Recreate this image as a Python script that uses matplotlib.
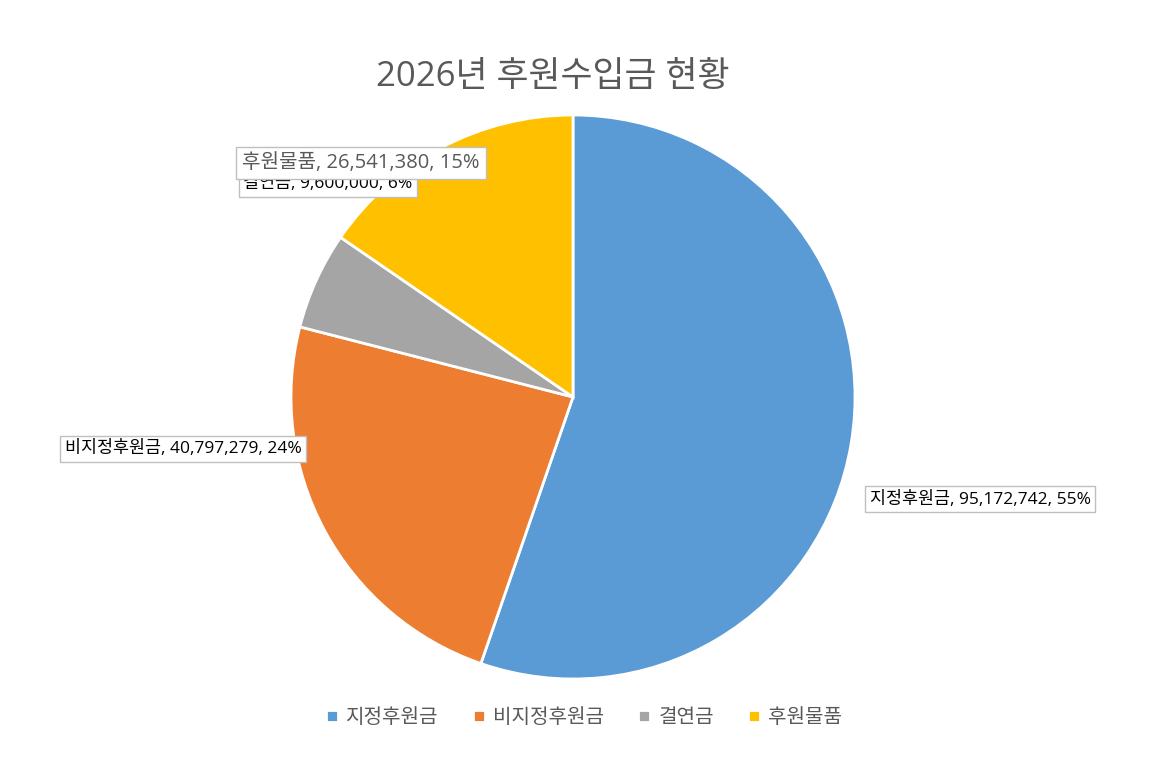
import matplotlib.pyplot as plt

plt.rcParams['font.family'] = ['Open Sans', 'Noto Sans CJK KR', 'DejaVu Sans']

# data
categories = ['지정후원금', '비지정후원금', '결연금', '후원물품']
values = [95172742, 40797279, 9600000, 26541380]
colors = ['#5B9BD5', '#ED7D31', '#A5A5A5', '#FFC000']
title = '2026년 후원수입금 현황'

# label box centres in figure pixels (layout only)
label_pos = [(980, 499), (183, 449), (328, 184), (361, 163)]
label_size = [12.5, 12.5, 12.5, 14.5]
label_pad = [0.25, 0.25, 0.25, 0.32]
label_color = ['black', 'black', 'black', '#595959']

W, H = 1173, 781
fig = plt.figure(figsize=(W / 100, H / 100), dpi=100)
fig.patch.set_facecolor('white')

cx, cy, r = 573, 397, 282
ax = fig.add_axes([(cx - r) / W, (H - cy - r) / H, 2 * r / W, 2 * r / H])
wedges, _ = ax.pie(values, colors=colors, startangle=90, counterclock=False,
                   wedgeprops=dict(edgecolor='white', linewidth=2))
ax.set_xlim(-1, 1)
ax.set_ylim(-1, 1)
ax.set_aspect('equal')

total = sum(values)
for i, (name, v) in enumerate(zip(categories, values)):
    pct = round(v / total * 100)
    txt = f'{name}, {v:,}, {pct}%'
    px, py = label_pos[i]
    fig.text(px / W, 1 - py / H, txt, ha='center', va='center',
             fontsize=label_size[i], color=label_color[i],
             bbox=dict(boxstyle=f'square,pad={label_pad[i]}', fc='white',
                       ec='#BFBFBF', lw=1))

fig.text(553 / W, 1 - 77 / H, title, ha='center', va='center',
         fontsize=25, color='#595959')

fig.legend(wedges, categories, loc='center', bbox_to_anchor=(584 / W, 1 - 718 / H),
           ncol=4, frameon=False, fontsize=14.5, handlelength=0.6, handleheight=0.6,
           handletextpad=0.4, columnspacing=1.7, labelcolor='#595959')

fig.savefig('out.png', dpi=100)
